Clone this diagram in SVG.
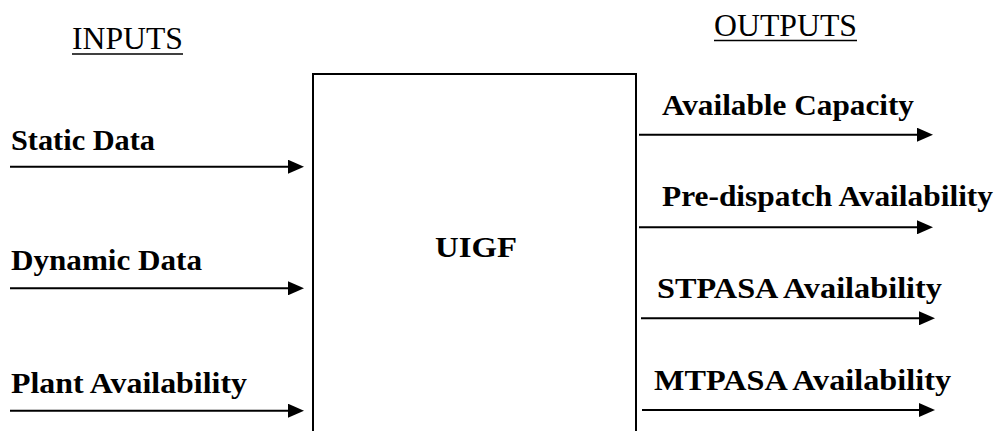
<svg xmlns="http://www.w3.org/2000/svg" width="1000" height="431" viewBox="0 0 1000 431">
<style>
.hdr{font-family:"Liberation Serif","Times New Roman",serif;font-size:31px;fill:#000}
.lbl{font-family:"Liberation Serif","Times New Roman",serif;font-size:29px;font-weight:bold;fill:#000}
.ul{stroke:#000;stroke-width:1.6}
.conn{stroke:#000;stroke-width:2;fill:none}
.box{stroke:#000;stroke-width:2;fill:#fff}
</style>
<defs>
<marker id="ah" markerUnits="userSpaceOnUse" markerWidth="16" markerHeight="14" refX="6" refY="7" orient="auto">
<path d="M0,0 L16,7 L0,14 z" fill="#000"/>
</marker>
</defs>
<rect width="1000" height="431" fill="#fff"/>
<g id="headers">
<text class="hdr" x="72" y="49" textLength="111" lengthAdjust="spacingAndGlyphs">INPUTS</text>
<line class="ul" x1="72" y1="54" x2="183" y2="54"/>
<text class="hdr" x="714" y="36" textLength="143" lengthAdjust="spacingAndGlyphs">OUTPUTS</text>
<line class="ul" x1="714" y1="40.5" x2="857" y2="40.5"/>
</g>
<g id="uigf">
<path class="box" d="M313,440 V74 H636 V440"/>
<text class="lbl" x="435" y="257" textLength="82" lengthAdjust="spacingAndGlyphs">UIGF</text>
</g>
<g id="input-static"><text class="lbl" x="11" y="150" textLength="144" lengthAdjust="spacingAndGlyphs">Static Data</text></g>
<g id="input-dynamic"><text class="lbl" x="11" y="270" textLength="191" lengthAdjust="spacingAndGlyphs">Dynamic Data</text></g>
<g id="input-plant"><text class="lbl" x="11" y="393" textLength="236" lengthAdjust="spacingAndGlyphs">Plant Availability</text></g>
<g id="output-capacity"><text class="lbl" x="662" y="115" textLength="252" lengthAdjust="spacingAndGlyphs">Available Capacity</text></g>
<g id="output-predispatch"><text class="lbl" x="662" y="206" textLength="331" lengthAdjust="spacingAndGlyphs">Pre-dispatch Availability</text></g>
<g id="output-stpasa"><text class="lbl" x="657" y="298" textLength="285" lengthAdjust="spacingAndGlyphs">STPASA Availability</text></g>
<g id="output-mtpasa"><text class="lbl" x="654" y="390" textLength="297" lengthAdjust="spacingAndGlyphs">MTPASA Availability</text></g>
<g id="connectors">
<line class="conn" x1="10" y1="166.7" x2="294" y2="166.7" marker-end="url(#ah)"/>
<line class="conn" x1="10" y1="288.3" x2="294" y2="288.3" marker-end="url(#ah)"/>
<line class="conn" x1="10" y1="410.7" x2="294" y2="410.7" marker-end="url(#ah)"/>
<line class="conn" x1="639" y1="134.7" x2="923" y2="134.7" marker-end="url(#ah)"/>
<line class="conn" x1="639" y1="227.3" x2="923" y2="227.3" marker-end="url(#ah)"/>
<line class="conn" x1="641" y1="318.3" x2="925" y2="318.3" marker-end="url(#ah)"/>
<line class="conn" x1="642" y1="410" x2="925" y2="410" marker-end="url(#ah)"/>
</g>
</svg>
